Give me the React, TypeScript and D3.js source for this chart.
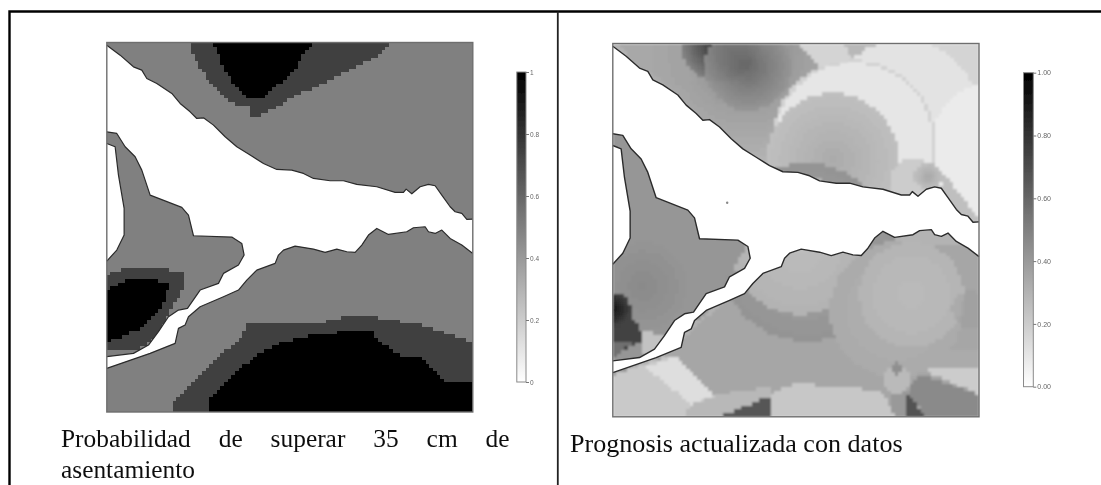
import { useEffect, useMemo, useRef } from "react";
import * as d3 from "d3";

// map units: the raster is the same area in both panels
const mapWidth = 1098;
const mapHeight = 1109;
const gridCols = 100;
const gridRows = 100;

type Pt = [number, number];

// shoreline of the estuary
const northCoast: Pt[] = [[0, 8], [40, 38], [80, 73], [105, 83], [120, 108], [150, 123], [195, 153], [220, 183], [250, 208], [270, 228], [290, 226], [320, 248], [355, 283], [390, 313], [430, 338], [470, 363], [510, 381], [555, 383], [590, 393], [620, 408], [670, 415], [710, 415], [750, 426], [810, 433], [865, 450], [890, 450], [898, 440], [915, 454], [940, 433], [965, 426], [985, 430], [1005, 458], [1030, 493], [1045, 508], [1065, 513], [1080, 531], [1098, 530]];
const southCoast: Pt[] = [[1098, 633], [1065, 608], [1030, 588], [1005, 563], [985, 573], [965, 568], [955, 553], [920, 556], [900, 568], [845, 576], [810, 558], [785, 578], [765, 608], [745, 630], [720, 628], [690, 620], [655, 630], [620, 620], [565, 611], [530, 623], [515, 638], [505, 663], [450, 683], [420, 713], [395, 743], [350, 763], [280, 793], [245, 823], [235, 848], [215, 858], [205, 903], [130, 933], [0, 978]];
const islandCoast: Pt[] = [[0, 943], [80, 933], [125, 908], [155, 868], [185, 823], [215, 803], [242, 798], [280, 743], [335, 723], [350, 693], [395, 668], [412, 638], [405, 603], [375, 584], [260, 580], [245, 518], [225, 495], [130, 458], [105, 383], [85, 343], [55, 313], [30, 273], [0, 268]];
const westBank: Pt[] = [[0, 303], [25, 313], [35, 398], [52, 498], [52, 578], [30, 623], [0, 656]];

// left panel classes
const topDark: Pt[] = [[248, 0], [265, 48], [295, 98], [330, 143], [380, 183], [425, 193], [430, 221], [455, 221], [485, 203], [540, 173], [600, 143], [680, 108], [760, 68], [810, 38], [850, 0]];
const topBlack: Pt[] = [[318, 0], [340, 38], [350, 83], [380, 118], [420, 166], [465, 166], [520, 118], [570, 68], [590, 28], [620, 0]];
const westDark: Pt[] = [[0, 696], [40, 683], [90, 675], [160, 675], [228, 693], [228, 738], [205, 778], [175, 838], [150, 878], [120, 908], [80, 923], [0, 923]];
const westBlack: Pt[] = [[0, 741], [50, 716], [105, 711], [190, 718], [175, 768], [145, 818], [110, 853], [60, 873], [0, 898]];
const southDark: Pt[] = [[202, 1109], [202, 1073], [245, 1028], [280, 993], [315, 958], [365, 918], [400, 888], [425, 843], [540, 843], [620, 848], [680, 830], [740, 821], [810, 826], [880, 838], [940, 848], [1020, 873], [1098, 903], [1098, 1109]];
const southBlack: Pt[] = [[310, 1109], [310, 1073], [345, 1028], [400, 978], [450, 938], [510, 906], [620, 878], [720, 868], [795, 868], [830, 908], [880, 938], [940, 948], [1025, 1023], [1098, 1025], [1098, 1109]];

type Layer =
    | { poly: Pt[]; p: number; alpha?: number }
    | { c: Pt; r: number; p: number; edge?: number; alpha?: number };

const classLayers: Layer[] = [
    { poly: topDark, p: 0.75 },
    { poly: topBlack, p: 1 },
    { poly: westDark, p: 0.75 },
    { poly: westBlack, p: 1 },
    { poly: southDark, p: 0.75 },
    { poly: southBlack, p: 1 },
];

// right panel, back to front: overlapping neighbourhoods of the updated prognosis
const prognosisLayers: Layer[] = [
    { c: [400, 20], r: 330, p: 0.46, edge: 0.3 },
    { poly: [[20, 0], [230, 0], [300, 90], [180, 130], [60, 60]], p: 0.36, alpha: 0.6 },
    { c: [320, 0], r: 115, p: 0.88, edge: 0.5, alpha: 0.9 },
    { c: [405, 70], r: 130, p: 0.62, edge: 0.42, alpha: 0.8 },
    { poly: [[560, 0], [1098, 0], [1098, 540], [950, 400], [800, 200], [640, 90]], p: 0.17 },
    { c: [767, -15], r: 75, p: 0.28 },
    { c: [870, 220], r: 230, p: 0.11 },
    { c: [1170, 330], r: 225, p: 0.08 },
    { c: [722, 295], r: 246, p: 0.18 },
    { c: [722, 295], r: 237, p: 0.1 },
    { c: [660, 345], r: 198, p: 0.33, edge: 0.25 },
    { c: [900, 410], r: 68, p: 0.2 },
    { c: [945, 395], r: 42, p: 0.34, edge: 0.25 },
    { poly: [[990, 380], [1098, 520], [1098, 560], [1040, 520], [980, 440]], p: 0.25 },
    // south shore
    { poly: [[0, 1000], [150, 930], [500, 620], [1098, 600], [1098, 1120], [0, 1120]], p: 0.35 },
    { c: [580, 620], r: 265, p: 0.36, edge: 0.42 },
    { c: [560, 600], r: 205, p: 0.26, edge: 0.3 },
    { c: [850, 790], r: 200, p: 0.31, edge: 0.33 },
    { c: [895, 745], r: 155, p: 0.27, edge: 0.29 },
    { c: [1070, 790], r: 55, p: 0.4, alpha: 0.35 },
    // west shore
    { poly: [[0, 250], [420, 570], [280, 800], [0, 1000]], p: 0.41 },
    { c: [90, 720], r: 130, p: 0.48, edge: 0.42, alpha: 0.7 },
    { poly: [[0, 731], [88, 860], [95, 880], [0, 925]], p: 0.74 },
    { c: [0, 790], r: 52, p: 0.93, edge: 0.74 },
    { poly: [[0, 885], [70, 882], [0, 930]], p: 0.56 },
    { poly: [[88, 850], [150, 870], [140, 920], [90, 915]], p: 0.2, alpha: 0.8 },
    // bottom strip
    { poly: [[0, 985], [170, 930], [330, 1070], [200, 1120], [0, 1120]], p: 0.21 },
    { poly: [[100, 960], [190, 930], [300, 1045], [235, 1072]], p: 0.13 },
    { poly: [[205, 1120], [235, 1072], [330, 1040], [470, 1020], [470, 1120]], p: 0.28 },
    { poly: [[319, 1109], [469, 1049], [469, 1120], [319, 1120]], p: 0.66 },
    { poly: [[470, 1120], [470, 1040], [550, 1010], [800, 1030], [860, 1120]], p: 0.22 },
    { poly: [[830, 1050], [890, 1030], [895, 1120], [845, 1120]], p: 0.4 },
    { poly: [[919, 980], [1098, 1040], [1098, 1120], [949, 1120], [880, 1031]], p: 0.46 },
    { poly: [[874, 1031], [949, 1120], [880, 1120]], p: 0.68 },
    { poly: [[931, 971], [1098, 959], [1098, 1040]], p: 0.2 },
    { poly: [[900, 945], [945, 900], [1098, 915], [1098, 959], [931, 971]], p: 0.33 },
    { c: [850, 1000], r: 40, p: 0.27 },
    { c: [850, 965], r: 18, p: 0.44 },
];

const legendTicks = [0, 0.2, 0.4, 0.6, 0.8, 1];
const sampleSite: Pt = [343, 473];

const captionLeft = ["Probabilidad de superar 35 cm de", "asentamiento"];
const captionRight = "Prognosis actualizada con datos";

const shade = d3.scaleLinear<string>().domain([0, 1]).range(["#ffffff", "#000000"]);

// value of one grid cell: walk the layers back to front
function cellValue(x: number, y: number, base: number, layers: Layer[]) {
    let v = base;
    layers.forEach((l) => {
        const a = l.alpha ?? 1;
        if ("poly" in l) {
            if (d3.polygonContains(l.poly, [x, y])) v = v * (1 - a) + l.p * a;
        } else {
            const d = Math.hypot(x - l.c[0], y - l.c[1]);
            if (d <= l.r) {
                const val = l.p + ((l.edge ?? l.p) - l.p) * (d / l.r);
                v = v * (1 - a) + val * a;
            }
        }
    });
    return v;
}

function Legend({ x, y0, y1, width, format, id, size }: { x: number; y0: number; y1: number; width: number; format: string; id: string; size: number }) {
    const ref = useRef<SVGGElement>(null);
    const scale = d3.scaleLinear().domain([0, 1]).range([y1, y0]);

    useEffect(() => {
        const g = d3.select(ref.current!);
        g.selectAll("*").remove();
        g.call(d3.axisRight(scale).tickValues(legendTicks).tickSize(3).tickPadding(1).tickFormat((d) => d3.format(format)(d as number)) as any);
        g.select(".domain").remove();
        g.selectAll("line").attr("stroke", "#777");
        g.selectAll("text").attr("fill", "#666").style("font-family", "'Liberation Sans'").style("font-size", `${size}px`);
    }, []);

    return (
        <g>
            <defs>
                <linearGradient id={id} x1="0" x2="0" y1="1" y2="0">
                    {legendTicks.map((t) => (
                        <stop key={t} offset={t} stopColor={shade(t)} />
                    ))}
                </linearGradient>
            </defs>
            <rect x={x} y={y0} width={width} height={y1 - y0} fill={`url(#${id})`} stroke="#8a8a8a" strokeWidth={1} />
            <g ref={ref} transform={`translate(${x + width},0)`} />
        </g>
    );
}

function MapPanel({ id, left, top, right, bottom, base, layers, line, smooth, site }: { id: string; left: number; top: number; right: number; bottom: number; base: number; layers: Layer[]; line: number; smooth: number; site?: Pt }) {
    const x = d3.scaleLinear().domain([0, mapWidth]).range([left, right]);
    const y = d3.scaleLinear().domain([0, mapHeight]).range([top, bottom]);
    const cols = d3.scaleBand<number>().domain(d3.range(gridCols)).range([0, mapWidth]);
    const rows = d3.scaleBand<number>().domain(d3.range(gridRows)).range([0, mapHeight]);

    const paths = useMemo(() => {
        const cells = d3.cross(cols.domain(), rows.domain()).map(([c, r]) => {
            const v = cellValue(cols(c)! + cols.bandwidth() / 2, rows(r)! + rows.bandwidth() / 2, base, layers);
            return { c, r, v: Math.round(v * 100) / 100 };
        });
        return Array.from(d3.group(cells, (d) => d.v), ([v, list]) => ({
            v,
            d: list.map((k) => {
                const x0 = x(cols(k.c)!);
                const y0 = y(rows(k.r)!);
                const w = x(cols.bandwidth()) - x(0) + 0.4;
                const h = y(rows.bandwidth()) - y(0) + 0.4;
                return `M${x0} ${y0}h${w}v${h}h${-w}z`;
            }).join(""),
        }));
    }, []);

    const outline = d3.line<Pt>().x((d) => x(d[0])).y((d) => y(d[1]));
    const water = [...northCoast, ...southCoast, ...islandCoast];

    return (
        <g>
            <defs>
                <filter id={`${id}-blur`} filterUnits="userSpaceOnUse" x={left - 8} y={top - 8} width={right - left + 16} height={bottom - top + 16}>
                    <feGaussianBlur stdDeviation={smooth} edgeMode="duplicate" />
                </filter>
                <clipPath id={`${id}-clip`}>
                    <rect x={left} y={top} width={right - left} height={bottom - top} />
                </clipPath>
            </defs>
            <g clipPath={`url(#${id}-clip)`}>
                <g filter={`url(#${id}-blur)`}>
                    {paths.map((p) => (
                        <path key={p.v} d={p.d} fill={shade(p.v)} shapeRendering="crispEdges" />
                    ))}
                </g>
            </g>
            <path d={`${outline(water)}Z`} fill="#fff" />
            <path d={outline(westBank)!} fill="#fff" />
            {[northCoast, southCoast, islandCoast, westBank].map((c, i) => (
                <path key={i} d={outline(c)!} fill="none" stroke="#2b2b2b" strokeWidth={line} strokeLinejoin="round" />
            ))}
            {site && <circle cx={x(site[0])} cy={y(site[1])} r={1.2} fill="#888" />}
            <rect x={left} y={top} width={right - left} height={bottom - top} fill="none" stroke="#6e6e6e" strokeWidth={1.4} />
        </g>
    );
}

export default function App() {
    return (
        <svg width={1101} height={485} style={{ position: "absolute", left: 0, top: 0, display: "block", background: "#fff" }}>
            <defs>
                <filter id="soft" filterUnits="userSpaceOnUse" x={0} y={0} width={1101} height={485}>
                    <feGaussianBlur stdDeviation={0.55} />
                </filter>
            </defs>
            <g filter="url(#soft)">
                <rect x={0} y={0} width={1101} height={485} fill="#fff" />
                <MapPanel id="classes" left={106.8} top={42.5} right={472.8} bottom={412} base={0.5} layers={classLayers} line={1.2} smooth={0.01} />
                <MapPanel id="prognosis" left={612.8} top={43.5} right={979} bottom={416.8} base={0.3} layers={prognosisLayers} line={1.4} smooth={1} site={sampleSite} />
                <Legend id="rampLeft" x={516.8} y0={72} y1={382} width={9.2} format="" size={6.5} />
                <Legend id="rampRight" x={1023.5} y0={72.7} y1={386.7} width={9.8} format=".2f" size={7} />

                {/* frame of the table around both panels */}
                <path d="M9.5 485V11.5H1101" fill="none" stroke="#000" strokeWidth={2.4} />
                <path d="M557.8 11.5V485" fill="none" stroke="#222" strokeWidth={1.8} />

                <g fontFamily="'Liberation Serif'" fill="#111">
                    <text x={61} y={447} fontSize={25.4} wordSpacing={21.6}>{captionLeft[0]}</text>
                    <text x={61} y={478} fontSize={25.4}>{captionLeft[1]}</text>
                    <text x={570} y={452} fontSize={26.1}>{captionRight}</text>
                </g>
            </g>
        </svg>
    );
}
